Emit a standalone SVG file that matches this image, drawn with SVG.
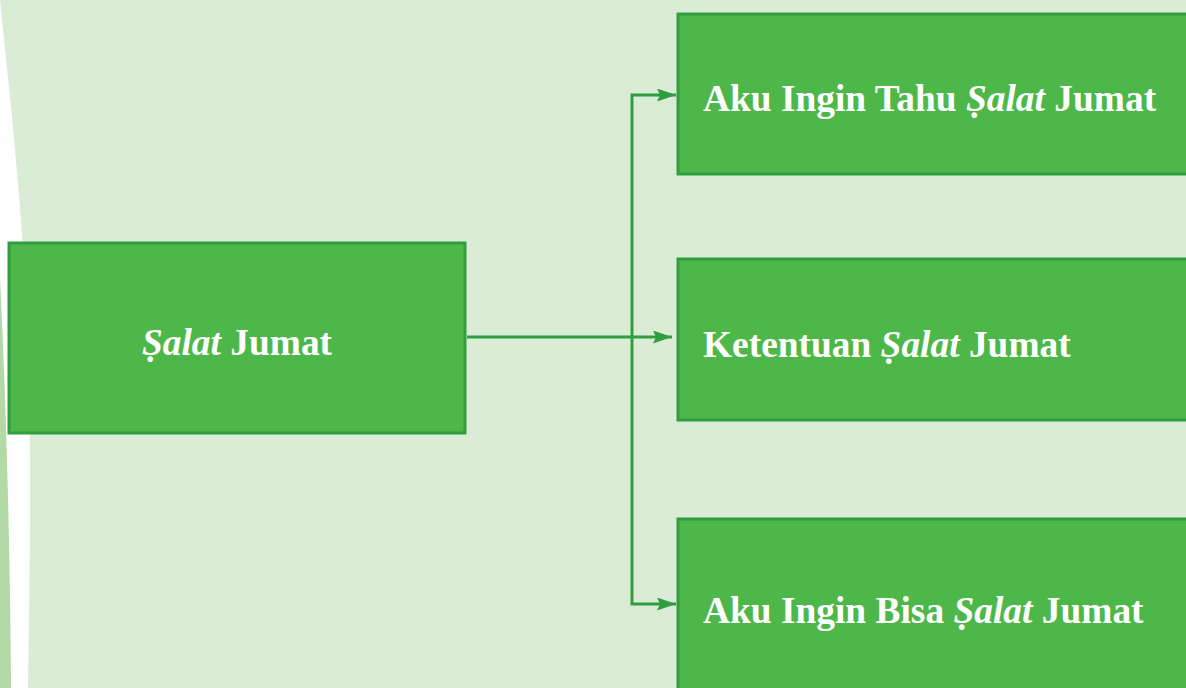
<svg xmlns="http://www.w3.org/2000/svg" width="1186" height="688" viewBox="0 0 1186 688">
  <defs>
    <style>
      .box { fill: #4db849; stroke: #2f9e3f; stroke-width: 3; }
      .label { font-family: "Liberation Serif", "Times New Roman", serif; font-weight: bold; font-size: 37.4px; fill: #ffffff; }
      .label .it { font-style: italic; }
      .link { fill: none; stroke: #2f9e3f; stroke-width: 3; }
    </style>
    <marker id="arrow" viewBox="0 0 19 13" refX="19" refY="6.5" markerWidth="19" markerHeight="13" markerUnits="userSpaceOnUse" orient="auto">
      <path d="M0,0 L19,6.5 L0,13 L3,6.5 Z" fill="#2f9e3f"/>
    </marker>
  </defs>

  <!-- page background with curved left margin -->
  <rect x="0" y="0" width="1186" height="688" fill="#ffffff"/>
  <path d="M0,0 L1186,0 L1186,688 L28,688 C30,560 32,420 26,300 C20,180 8,80 0,0 Z" fill="#dbecd6"/>
  <path d="M0,278 C6,400 10,540 11,688 L0,688 Z" fill="#b3d9a7"/>

  <!-- connectors -->
  <g id="connectors">
    <path class="link" d="M467,337 L672,337" marker-end="url(#arrow)"/>
    <path class="link" d="M632,337 L632,95 L676,95" marker-end="url(#arrow)"/>
    <path class="link" d="M632,337 L632,604 L676,604" marker-end="url(#arrow)"/>
  </g>

  <g id="node-salat-jumat">
    <rect class="box" x="9" y="243" width="456" height="190"/>
    <text class="label" x="237" y="355" text-anchor="middle"><tspan class="it">Ṣalat</tspan> Jumat</text>
  </g>

  <g id="node-ingin-tahu">
    <rect class="box" x="678" y="14" width="512" height="160"/>
    <text class="label" x="703" y="111">Aku Ingin Tahu <tspan class="it">Ṣalat</tspan> Jumat</text>
  </g>

  <g id="node-ketentuan">
    <rect class="box" x="678" y="259" width="512" height="161"/>
    <text class="label" x="703" y="357">Ketentuan <tspan class="it">Ṣalat</tspan> Jumat</text>
  </g>

  <g id="node-ingin-bisa">
    <rect class="box" x="678" y="519" width="512" height="180"/>
    <text class="label" x="703" y="623">Aku Ingin Bisa <tspan class="it">Ṣalat</tspan> Jumat</text>
  </g>
</svg>
